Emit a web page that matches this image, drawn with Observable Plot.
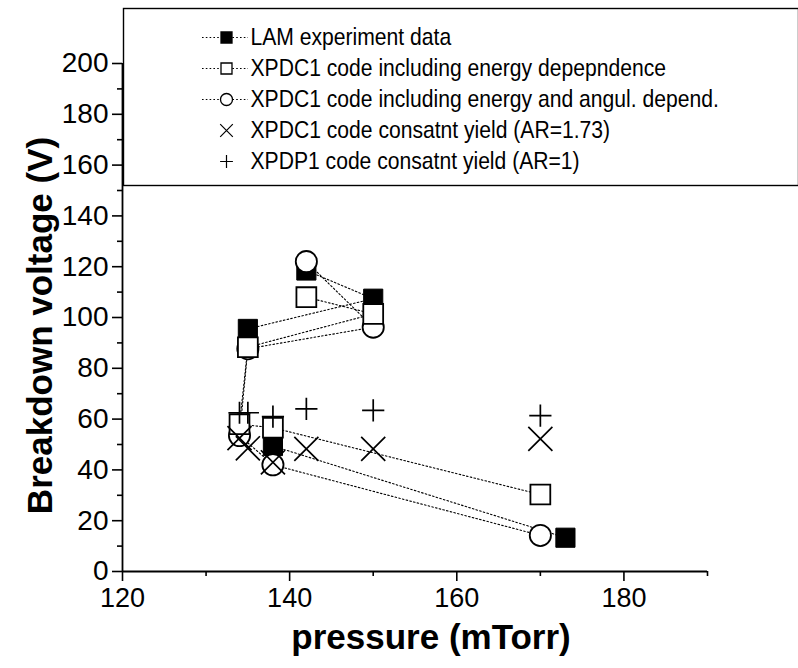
<!DOCTYPE html>
<html><head><meta charset="utf-8">
<script src="https://cdn.jsdelivr.net/npm/d3@7"></script>
<script src="https://cdn.jsdelivr.net/npm/@observablehq/plot@0.6"></script>
<style>
body{margin:0;background:#fff;}
#wrap{position:relative;width:798px;height:668px;overflow:hidden;}
#legend{position:absolute;left:123px;top:8px;}
svg{overflow:visible;}
</style></head><body><div id="wrap"><div id="chart"></div><div id="legend"></div></div>
<script>
// ---------- data ----------
const seriesNames = [
  "LAM experiment data",
  "XPDC1 code including energy depepndence",
  "XPDC1 code including energy and angul. depend.",
  "XPDC1 code consatnt yield (AR=1.73)",
  "XPDP1 code consatnt yield (AR=1)"
];
// LAM experiment data (points in plotting order; segment breaks the dotted line)
const lamPressure = [142, 150, 135, 138, 173];
const lamVoltage  = [118.5, 107.4, 95.5, 49.4, 13.3];
const lamSegment  = [0, 0, 0, 1, 1];
// XPDC1 energy dependence
const edPressure = [142, 150, 135, 134, 138, 170];
const edVoltage  = [108, 101.4, 88.3, 58, 56.6, 30.3];
// XPDC1 energy + angular dependence
const eaPressure = [142, 150, 135, 134, 138, 170];
const eaVoltage  = [122, 96.2, 87.7, 53.5, 42, 14.2];
// XPDC1 constant yield (AR=1.73)
const cyPressure = [134, 135, 138, 142, 150, 170];
const cyVoltage  = [52.5, 48.5, 43, 48.3, 48.3, 52.2];
// XPDP1 constant yield (AR=1)
const p1Pressure = [134, 135, 138, 142, 150, 170];
const p1Voltage  = [62.5, 62.5, 61, 64, 63.4, 61.4];

const xMajorTicks = [120, 140, 160, 180];
const xMinorTicks = [130, 150, 170, 190];
const yMajorTicks = [0, 20, 40, 60, 80, 100, 120, 140, 160, 180, 200];
const yMinorTicks = [10, 30, 50, 70, 90, 110, 130, 150, 170, 190];

// ---------- tables ----------
const lam = lamPressure.map((p, i) => ({p, v: lamVoltage[i], seg: lamSegment[i]}));
const ed = edPressure.map((p, i) => ({p, v: edVoltage[i]}));
const ea = eaPressure.map((p, i) => ({p, v: eaVoltage[i]}));
const cy = cyPressure.map((p, i) => ({p, v: cyVoltage[i]}));
const p1 = p1Pressure.map((p, i) => ({p, v: p1Voltage[i]}));

const dotted = {stroke: "#000", strokeWidth: 1.1, strokeDasharray: "1.6,2.2"};
const font = "'Liberation Sans', Arial, Helvetica, sans-serif";

const chart = Plot.plot({
  width: 798, height: 668,
  marginLeft: 122, marginRight: 91, marginTop: 63, marginBottom: 97,
  x: {domain: [120, 190]},
  y: {domain: [0, 200]},
  style: {fontFamily: font, color: "#000", background: "transparent", overflow: "visible"},
  marks: [
    Plot.line(lam, {x: "p", y: "v", z: "seg", ...dotted}),
    Plot.line(ed, {x: "p", y: "v", ...dotted}),
    Plot.line(ea, {x: "p", y: "v", ...dotted}),
    Plot.dot(lam, {x: "p", y: "v", symbol: "square", r: 10.8, fill: "#000", stroke: "#000", strokeWidth: 1}),
    Plot.dot(ea, {x: "p", y: "v", symbol: "circle", r: 10.6, fill: "#fff", stroke: "#000", strokeWidth: 1.8}),
    Plot.dot(ed, {x: "p", y: "v", symbol: "square", r: 11.2, fill: "#fff", stroke: "#000", strokeWidth: 1.8}),
    Plot.dot(cy, {x: "p", y: "v", symbol: "times", r: 11, stroke: "#000", strokeWidth: 1.7}),
    Plot.dot(p1, {x: "p", y: "v", symbol: "plus", r: 7.2, stroke: "#000", strokeWidth: 1.7}),
    // axes
    Plot.ruleY([0], {stroke: "#000", strokeWidth: 1.8}),
    Plot.ruleX([120], {stroke: "#000", strokeWidth: 1.8}),
    Plot.axisX({ticks: xMajorTicks, tickSize: 10, tickPadding: 6, fontSize: 27, label: null, strokeWidth: 1.6, style: "letter-spacing:-2px"}),
    Plot.axisX({ticks: xMinorTicks, tickSize: 5, tickFormat: () => "", label: null, strokeWidth: 1.6}),
    Plot.axisY({ticks: yMajorTicks, tickSize: 10, tickPadding: 4, fontSize: 28, label: null, strokeWidth: 1.6, style: "letter-spacing:-0.8px"}),
    Plot.axisY({ticks: yMinorTicks, tickSize: 5, tickFormat: () => "", label: null, strokeWidth: 1.6}),
    Plot.text(["Breakdown voltage (V)"], {frameAnchor: "left", textAnchor: "middle", rotate: -90, dx: -82, dy: 8, fontSize: 35, fontWeight: "bold", style: "letter-spacing:-1.5px"}),
    Plot.text(["pressure (mTorr)"], {frameAnchor: "bottom", textAnchor: "middle", dx: 16, dy: 77, fontSize: 35, fontWeight: "bold", style: "letter-spacing:-1.6px"})
  ]
});
document.getElementById("chart").append(chart);

// ---------- legend ----------
const legendSymbols = ["square", "square", "circle", "times", "plus"];
const legendFill = ["#000", "#fff", "#fff", "none", "none"];
const legendHasLine = [true, true, true, false, false];
const legendRows = seriesNames.map((name, i) => ({name, symbol: legendSymbols[i], fill: legendFill[i], line: legendHasLine[i]}));
const lineRows = legendRows.filter(d => d.line);

const legend = Plot.plot({
  width: 675, height: 177,
  margin: 0,
  x: {domain: [0, 675], range: [0, 675], axis: null},
  y: {type: "point", domain: seriesNames, range: [29, 153], padding: 0, axis: null},
  style: {fontFamily: font, color: "#000", background: "#fff", overflow: "visible"},
  marks: [
    Plot.frame({stroke: "#000", strokeWidth: 1.4}),
    Plot.ruleY(lineRows, {y: "name", x1: () => 79, x2: () => 125, ...dotted}),
    Plot.dot(legendRows.filter(d => d.symbol === "square"), {x: () => 103, y: "name", symbol: "square", r: 6.2, fill: "fill", stroke: "#000", strokeWidth: 1.3}),
    Plot.dot(legendRows.filter(d => d.symbol === "circle"), {x: () => 103, y: "name", symbol: "circle", r: 6, fill: "#fff", stroke: "#000", strokeWidth: 1.3}),
    Plot.dot(legendRows.filter(d => d.symbol === "times"), {x: () => 103, y: "name", symbol: "times", r: 5.8, stroke: "#000", strokeWidth: 1.2}),
    Plot.dot(legendRows.filter(d => d.symbol === "plus"), {x: () => 103, y: "name", symbol: "plus", r: 4.2, stroke: "#000", strokeWidth: 1.2}),
    Plot.text(legendRows, {x: () => 127, y: "name", text: "name", textAnchor: "start", fontSize: 24, className: "legtext"})
  ]
});
document.getElementById("legend").append(legend);
// condense legend text horizontally (narrow face of the original)
legend.querySelectorAll("g.legtext text, .legtext text").forEach(t => {
  const tr = t.getAttribute("transform") || "";
  t.setAttribute("transform", tr + " scale(0.88,1)");
});
</script>
</body></html>
